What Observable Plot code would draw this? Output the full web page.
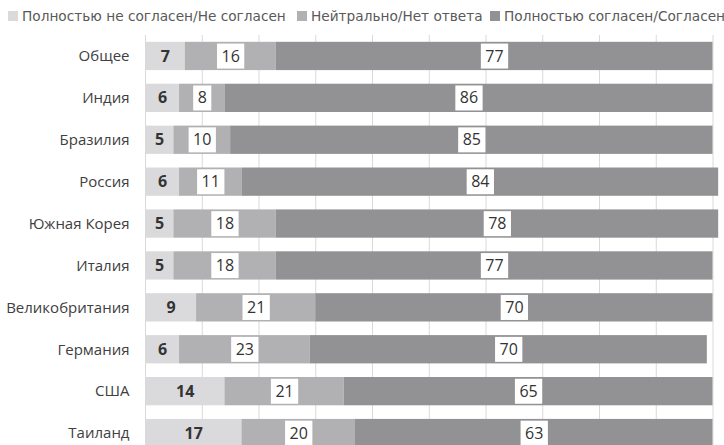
<!DOCTYPE html>
<html>
<head>
<meta charset="utf-8">
<script src="https://cdn.jsdelivr.net/npm/d3@7"></script>
<script src="https://cdn.jsdelivr.net/npm/@observablehq/plot@0.6"></script>
<style>
  html, body { margin: 0; padding: 0; background: #fff; overflow: hidden; }
  #legend { position: relative; height: 30px; width: 724px; font-family: "DejaVu Sans", sans-serif; font-size: 13.7px; color: #595959; }
  #legend .item { position: absolute; top: 9px; white-space: nowrap; line-height: 14px; }
  #legend .sw { position: absolute; top: 2px; width: 10px; height: 10px; }
  #chart svg { display: block; }
</style>
</head>
<body>
<div id="legend"></div>
<div id="chart"></div>
<script>
const countries = ["Общее","Индия","Бразилия","Россия","Южная Корея","Италия","Великобритания","Германия","США","Таиланд"];
const disagree = [7,6,5,6,5,5,9,6,14,17];
const neutral  = [16,8,10,11,18,18,21,23,21,20];
const agree    = [77,86,85,84,78,77,70,70,65,63];
const seriesNames = ["Полностью не согласен/Не согласен","Нейтрально/Нет ответа","Полностью согласен/Согласен"];
const seriesColors = ["#dadadc","#b1b1b3","#929295"];
const xTicks = [0,10,20,30,40,50,60,70,80,90,100];

const values = [disagree, neutral, agree];
const data = [];
seriesNames.forEach((s, si) => {
  countries.forEach((c, ci) => data.push({country: c, series: s, value: values[si][ci], idx: si}));
});

// legend
const legendPos = [8, 297, 490];
const legend = document.getElementById("legend");
seriesNames.forEach((s, i) => {
  const it = document.createElement("div");
  it.className = "item";
  it.style.left = legendPos[i] + "px";
  it.style.paddingLeft = "14px";
  it.innerHTML = `<span class="sw" style="left:0;background:${seriesColors[i]}"></span>${s}`;
  legend.appendChild(it);
});

const plot = Plot.plot({
  width: 724,
  height: 424,
  marginTop: 5,
  marginBottom: 0,
  marginLeft: 145,
  marginRight: 11.5,
  style: {fontFamily: "'Open Sans', sans-serif", fontSize: "15px", color: "#404040", background: "#fff"},
  x: {domain: [0, 100], axis: null},
  y: {domain: countries, paddingInner: 0.325, paddingOuter: 0.1625, round: false, tickSize: 0, tickPadding: 16, label: null},
  color: {domain: seriesNames, range: seriesColors},
  marks: [
    Plot.ruleX(xTicks, {stroke: "#d9d9d9", strokeWidth: 1}),
    Plot.barX(data, {x: "value", y: "country", fill: "series", order: seriesNames}),
    Plot.textX(data, Plot.stackX({
      x: "value", y: "country", z: "series", order: seriesNames,
      text: d => d.idx === 0 ? String(d.value) : null,
      fill: "#333", fontWeight: "bold", fontSize: 16
    })),
    Plot.textX(data, Plot.stackX({
      x: "value", y: "country", z: "series", order: seriesNames,
      text: d => d.idx > 0 ? String(d.value) : null,
      fill: "#333", fontSize: 16
    }))
  ]
});
document.getElementById("chart").appendChild(plot);

// white boxes behind the neutral / agree labels (last mark group)
const groups = Array.from(plot.children).filter(n => n.tagName.toLowerCase() === "g" && n.querySelector("text"));
const g = groups[groups.length - 1];
if (g) {
  Array.from(g.querySelectorAll("text")).forEach(t => {
    const bb = t.getBBox();
    const r = document.createElementNS("http://www.w3.org/2000/svg", "rect");
    const padX = 4.5, h = 25;
    const cy = bb.y + bb.height / 2;
    r.setAttribute("x", bb.x - padX);
    r.setAttribute("width", bb.width + 2 * padX);
    r.setAttribute("y", cy - h / 2 + 0.5);
    r.setAttribute("height", h);
    r.setAttribute("fill", "#fff");
    r.setAttribute("stroke", "none");
    ["transform", "x", "y"].forEach(a => { if (a === "transform" && t.getAttribute(a)) r.setAttribute(a, t.getAttribute(a)); });
    if (!t.getAttribute("transform") && t.getAttribute("x") == null) { /* position from bbox already absolute */ }
    t.parentNode.insertBefore(r, t);
  });
}
</script>
</body>
</html>
